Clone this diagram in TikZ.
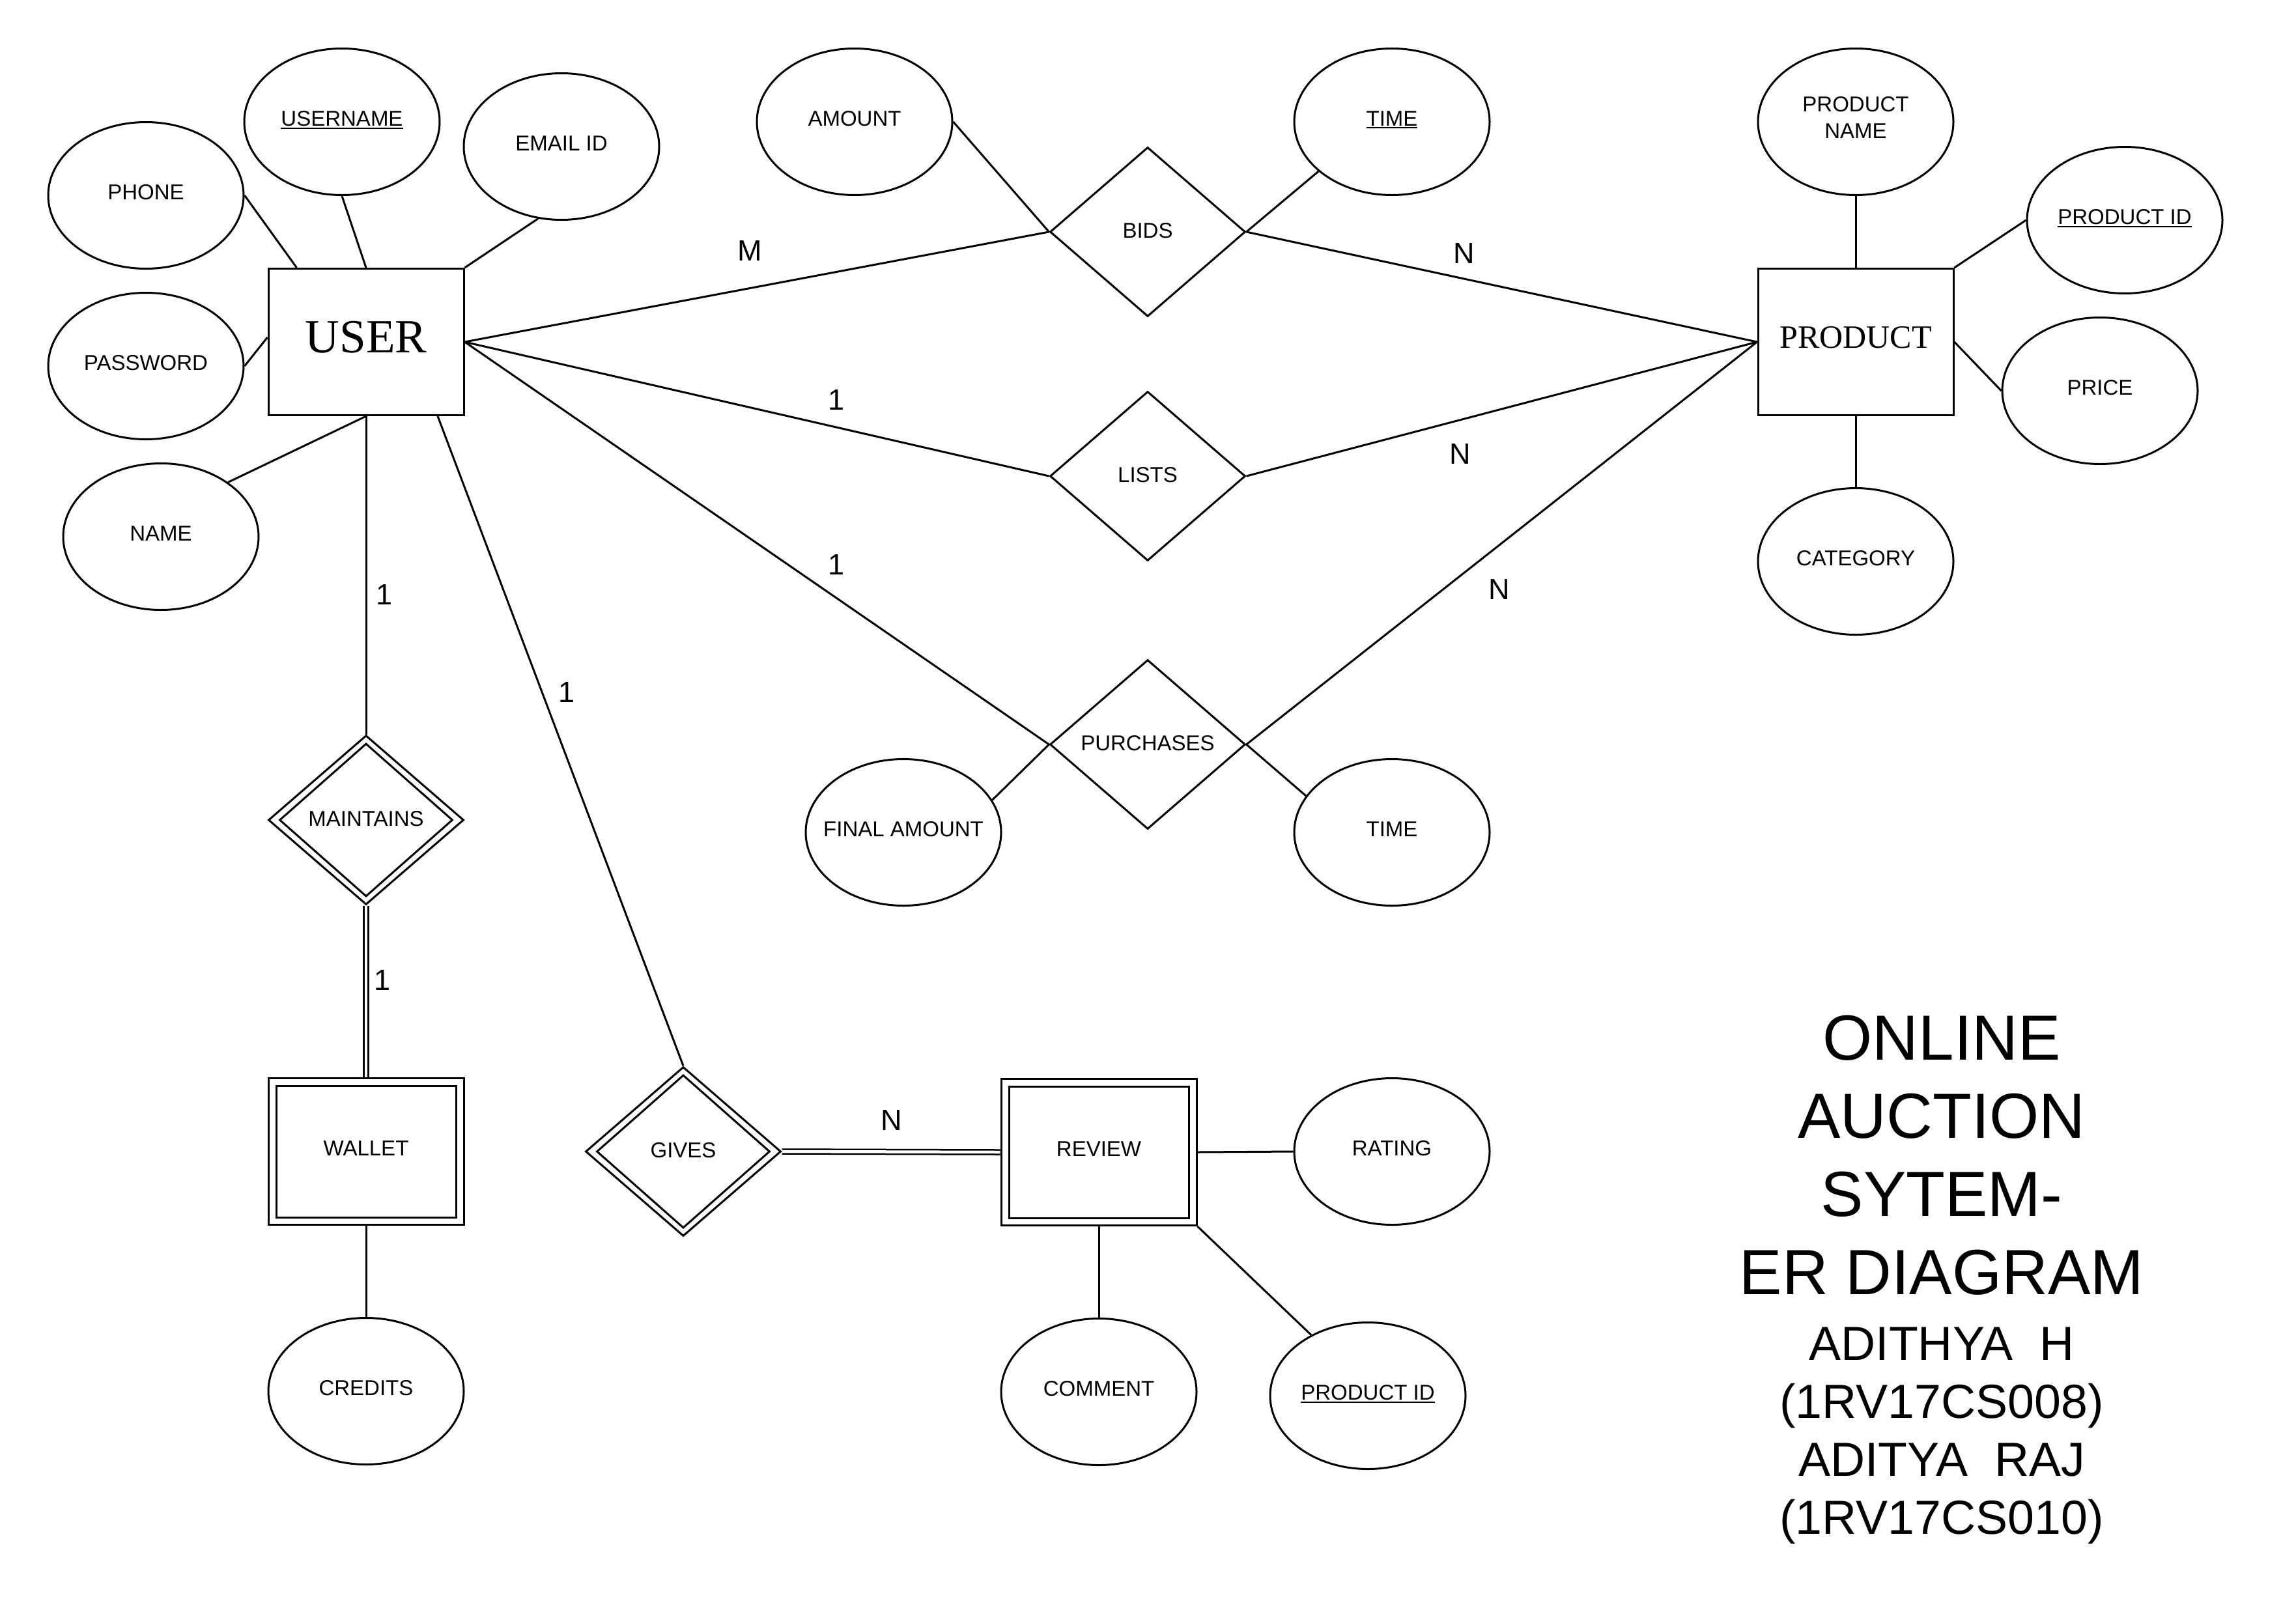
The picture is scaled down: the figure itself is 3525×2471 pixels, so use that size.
\documentclass[tikz,border=0pt]{standalone}
\usepackage{fontspec}
\setmainfont{Liberation Sans}
\newfontfamily\serifRM{Liberation Serif}
\usetikzlibrary{shapes.geometric}
\newcommand{\myul}[1]{\setbox0\hbox{#1}\rlap{\rule[-4pt]{\wd0}{2pt}}\box0}
\begin{document}
\begin{tikzpicture}[x=1pt,y=-1pt,line width=3pt,
  every node/.style={font=\fontsize{33}{41}\selectfont},
  attr/.style={draw,ellipse,minimum width=300pt,minimum height=225pt,inner sep=0pt,align=center,text depth=10pt},
  ent/.style={draw,rectangle,minimum width=300pt,minimum height=225pt,inner sep=0pt,text depth=10pt},
  entin/.style={draw,rectangle,minimum width=276pt,minimum height=202pt,inner sep=0pt},
  rel/.style={draw,diamond,minimum width=300pt,minimum height=260pt,inner sep=0pt,text depth=4pt},
  relin/.style={draw,diamond,minimum width=266pt,minimum height=235pt,inner sep=0pt},
  card/.style={font=\fontsize{45}{54}\selectfont,inner sep=0pt},
  dbl/.style={double,double distance=4.5pt,line width=2.5pt},
  bigtitle/.style={font=\fontsize{98}{118}\selectfont,anchor=base,inner sep=0pt},
  names/.style={font=\fontsize{73.5}{88}\selectfont,anchor=base,inner sep=0pt}]
\path[use as bounding box,fill=white] (0,0) rectangle (3525,2471);

% entities
\node[ent,font=\serifRM\fontsize{73}{88}\selectfont,text depth=16pt] (user) at (562,525) {USER};
\node[ent,font=\serifRM\fontsize{50}{60}\selectfont,text depth=14pt] (product) at (2849,525) {PRODUCT};
\node[ent] (wallet) at (562,1768) {WALLET};
\node[entin] (walletIn) at (wallet) {};
\node[ent] (review) at (1687,1769) {REVIEW};
\node[entin] (reviewIn) at (review) {};

% user attributes
\node[attr] (phone) at (224,300) {PHONE};
\node[attr] (username) at (525,187) {\myul{USERNAME}};
\node[attr] (email) at (862,225) {EMAIL ID};
\node[attr] (password) at (224,562) {PASSWORD};
\node[attr] (name) at (247,824) {NAME};

% relationships
\node[rel] (bids) at (1762,356) {BIDS};
\node[rel] (lists) at (1762,731) {LISTS};
\node[rel] (purchases) at (1762,1143) {PURCHASES};
\node[rel] (maint) at (562,1259) {MAINTAINS};
\node[relin] (maintIn) at (maint) {};
\node[rel] (gives) at (1049,1768) {GIVES};
\node[relin] (givesIn) at (gives) {};

% relationship attributes
\node[attr] (amount) at (1312,187) {AMOUNT};
\node[attr] (time1) at (2137,187) {\myul{TIME}};
\node[attr] (famount) at (1387,1278) {\makebox[0pt]{FINAL AMOUNT}};
\node[attr] (time2) at (2137,1278) {TIME};

% product attributes
\node[attr,text depth=14pt] (pname) at (2849,187) {PRODUCT\\NAME};
\node[attr] (prodid) at (3262,338) {\makebox[0pt]{\myul{PRODUCT ID}}};
\node[attr] (price) at (3224,600) {PRICE};
\node[attr] (category) at (2849,862) {CATEGORY};

% wallet / review attributes
\node[attr] (credits) at (562,2136) {CREDITS};
\node[attr] (rating) at (2137,1768) {RATING};
\node[attr] (comment) at (1687,2137) {COMMENT};
\node[attr] (prodid2) at (2100,2143) {\makebox[0pt]{\myul{PRODUCT ID}}};

% attribute connectors
\draw (phone.east) -- ([xshift=45pt]user.north west);
\draw (username.south) -- (user.north);
\draw (email.252) -- (user.north east);
\draw (password.east) -- ([yshift=7pt]user.west);
\draw (name.39) -- (user.south);
\draw (amount.east) -- (bids.west);
\draw (time1.214) -- (bids.east);
\draw (famount.20) -- (purchases.west);
\draw (time2.157) -- (purchases.east);
\draw (pname.south) -- (product.north);
\draw (prodid.west) -- (product.north east);
\draw (price.west) -- (product.east);
\draw (category.north) -- (product.south);
\draw (wallet.south) -- (credits.north);
\draw (review.east) -- (rating.west);
\draw (review.south) -- (comment.north);
\draw (review.south east) -- (prodid2.133);

% relationship connectors
\draw (user.east) -- (bids.west);
\draw (bids.east) -- (product.west);
\draw (user.east) -- (lists.west);
\draw (lists.east) -- (product.west);
\draw (user.east) -- (purchases.west);
\draw (purchases.east) -- (product.west);
\draw (user.south) -- (maint.north);
\draw[dbl] (maint.south) -- (wallet.north);
\draw ([xshift=110pt]user.south) -- (gives.north);
\draw[dbl] (gives.east) -- (review.west);

% cardinalities
\node[card] (cM) at (1151,385) {M};
\node[card] (cN1) at (2248,389) {N};
\node[card] (c1a) at (1284,614) {1};
\node[card] (cN2) at (2242,697) {N};
\node[card] (c1b) at (1284,867) {1};
\node[card] (cN3) at (2302,905) {N};
\node[card] (c1c) at (590,913) {1};
\node[card] (c1d) at (587,1505) {1};
\node[card] (c1e) at (870,1063) {1};
\node[card] (cN4) at (1369,1720) {N};

% title
\node[bigtitle] (t1) at (2981,1627) {ONLINE};
\node[bigtitle] (t2) at (2981,1747) {AUCTION};
\node[bigtitle] (t3) at (2981,1867) {SYTEM-};
\node[bigtitle] (t4) at (2981,1987) {ER DIAGRAM};
\node[names] (n1) at (2981,2088) {ADITHYA\ \ H};
\node[names] (n2) at (2981,2177) {(1RV17CS008)};
\node[names] (n3) at (2981,2266) {ADITYA\ \ RAJ};
\node[names] (n4) at (2981,2355) {(1RV17CS010)};
\end{tikzpicture}
\end{document}
